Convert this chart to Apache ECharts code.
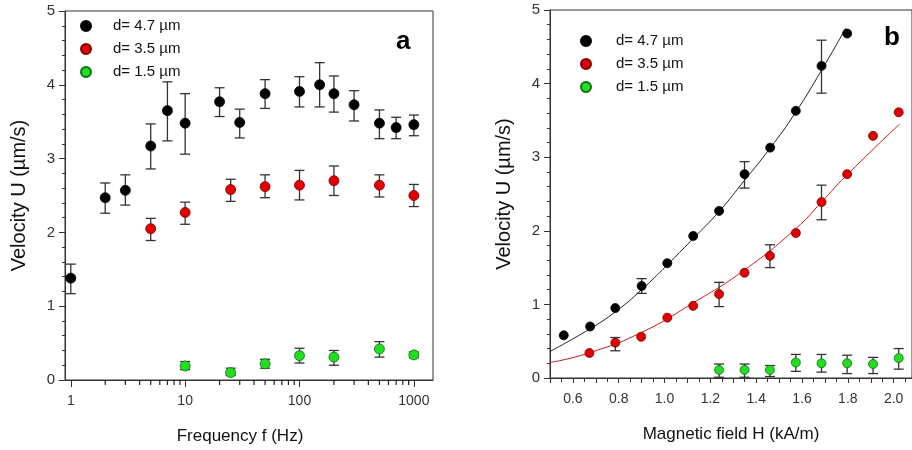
<!DOCTYPE html>
<html>
<head>
<meta charset="utf-8">
<script src="https://cdn.jsdelivr.net/npm/echarts@6/dist/echarts.min.js"></script>
<style>
  html, body { margin: 0; padding: 0; background: #fff; }
  #chart { width: 912px; height: 450px; }
</style>
</head>
<body>
<div id="chart"></div>
<script>
// panel a: velocity vs frequency (log x)
const freqBig = [1, 2, 3, 5, 7, 10, 20, 30, 50, 100, 150, 200, 300, 500, 700, 1000];
const uBig = [1.38, 2.47, 2.57, 3.17, 3.65, 3.48, 3.77, 3.49, 3.88, 3.91, 4.0, 3.88, 3.73, 3.48, 3.42, 3.46];
const uBigLo = [1.17, 2.26, 2.37, 2.86, 3.24, 3.06, 3.57, 3.28, 3.68, 3.7, 3.7, 3.63, 3.51, 3.27, 3.27, 3.31];
const uBigHi = [1.57, 2.67, 2.78, 3.47, 4.04, 3.88, 3.96, 3.67, 4.07, 4.11, 4.3, 4.12, 3.92, 3.66, 3.56, 3.59];

const freqMid = [5, 10, 25, 50, 100, 200, 500, 1000];
const uMid = [2.05, 2.27, 2.58, 2.62, 2.64, 2.7, 2.64, 2.5];
const uMidLo = [1.89, 2.11, 2.42, 2.47, 2.44, 2.5, 2.48, 2.35];
const uMidHi = [2.19, 2.41, 2.72, 2.78, 2.84, 2.9, 2.78, 2.65];

const freqSmall = [10, 25, 50, 100, 200, 500, 1000];
const uSmall = [0.19, 0.1, 0.22, 0.33, 0.31, 0.42, 0.34];
const uSmallLo = [0.14, 0.06, 0.16, 0.23, 0.2, 0.31, 0.3];
const uSmallHi = [0.25, 0.16, 0.28, 0.43, 0.4, 0.52, 0.38];

const freqMinorTicks = [2, 3, 4, 5, 6, 7, 8, 9, 20, 30, 40, 50, 60, 70, 80, 90, 200, 300, 400, 500, 600, 700, 800, 900];

// panel b: velocity vs magnetic field
const hBig = [0.56, 0.675, 0.785, 0.9, 1.012, 1.125, 1.238, 1.349, 1.461, 1.573, 1.685, 1.797];
const vBig = [0.58, 0.7, 0.95, 1.25, 1.56, 1.93, 2.27, 2.77, 3.13, 3.63, 4.24, 4.68];
const errBigH = [0.9, 1.349, 1.685];
const errBigLo = [1.15, 2.58, 3.87];
const errBigHi = [1.35, 2.94, 4.59];

const hMid = [0.672, 0.785, 0.898, 1.012, 1.125, 1.238, 1.349, 1.46, 1.573, 1.685, 1.797, 1.91, 2.022];
const vMid = [0.34, 0.48, 0.56, 0.82, 0.98, 1.14, 1.43, 1.66, 1.97, 2.39, 2.77, 3.29, 3.61];
const errMidH = [0.785, 1.238, 1.46, 1.685];
const errMidLo = [0.37, 0.97, 1.5, 2.15];
const errMidHi = [0.55, 1.3, 1.81, 2.62];

const hSmall = [1.238, 1.349, 1.46, 1.573, 1.685, 1.797, 1.91, 2.022];
const vSmall = [0.11, 0.11, 0.11, 0.21, 0.2, 0.2, 0.19, 0.27];
const vSmallLo = [0.01, 0.01, 0.02, 0.09, 0.08, 0.06, 0.06, 0.12];
const vSmallHi = [0.19, 0.19, 0.17, 0.32, 0.32, 0.31, 0.28, 0.4];

// fitted curves
const fitBigH = [0.5, 0.67, 0.79, 0.9, 1.01, 1.12, 1.24, 1.35, 1.46, 1.57, 1.685, 1.79];
const fitBigV = [0.36, 0.66, 0.91, 1.2, 1.53, 1.88, 2.27, 2.69, 3.12, 3.6, 4.18, 4.75];
const fitMidH = [0.5, 0.67, 0.9, 1.125, 1.35, 1.573, 1.685, 1.79, 2.026];
const fitMidV = [0.21, 0.34, 0.62, 1.02, 1.47, 2.03, 2.39, 2.74, 3.45];

const names = ["d= 4.7 \u00b5m", "d= 3.5 \u00b5m", "d= 1.5 \u00b5m"];
const colors = ["#000000", "#e00000", "#22dd22"];
const borders = ["#000000", "#7a0000", "#0d6e0d"];

const font = "Liberation Sans, Arial, sans-serif";
const freqMin = 0.89;
const freqMax = 1470;

function zip(a, b) {
  return a.map((v, i) => [v, b[i]]);
}

function errData(x, lo, hi) {
  return x.map((v, i) => [v, lo[i], hi[i]]);
}

function errSeries(idx, data) {
  return {
    type: "custom",
    xAxisIndex: idx,
    yAxisIndex: idx,
    silent: true,
    z: 2,
    data: data,
    renderItem: (params, api) => {
      let top = api.coord([api.value(0), api.value(2)]);
      let bot = api.coord([api.value(0), api.value(1)]);
      let w = 5;
      let st = { stroke: "#333", lineWidth: 1.3 };
      return {
        type: "group",
        children: [
          { type: "line", shape: { x1: top[0], y1: top[1], x2: bot[0], y2: bot[1] }, style: st },
          { type: "line", shape: { x1: top[0] - w, y1: top[1], x2: top[0] + w, y2: top[1] }, style: st },
          { type: "line", shape: { x1: bot[0] - w, y1: bot[1], x2: bot[0] + w, y2: bot[1] }, style: st },
        ],
      };
    },
  };
}

function pointSeries(idx, k, data, size) {
  return {
    name: names[k],
    type: "scatter",
    xAxisIndex: idx,
    yAxisIndex: idx,
    symbolSize: size,
    z: 3,
    itemStyle: { color: colors[k], borderColor: borders[k], borderWidth: 0.8, opacity: 1 },
    data: data,
  };
}

function fitSeries(k, data) {
  return {
    type: "line",
    xAxisIndex: 1,
    yAxisIndex: 1,
    smooth: true,
    showSymbol: false,
    silent: true,
    z: 1,
    lineStyle: { color: k === 0 ? "#222" : "#d01818", width: 1 },
    data: data,
  };
}

const yAxisBase = {
  type: "value",
  min: 0,
  max: 5,
  interval: 1,
  name: "Velocity U (\u00b5m/s)",
  nameLocation: "middle",
  nameRotate: 90,
  nameTextStyle: { fontSize: 20, fontFamily: font, color: "#111" },
  axisLine: { show: true, lineStyle: { color: "#333" } },
  axisTick: { show: true, length: 6, lineStyle: { color: "#333" } },
  minorTick: { show: true, splitNumber: 5, length: 3, lineStyle: { color: "#333" } },
  splitLine: { show: false },
  axisLabel: { fontSize: 15, fontFamily: font, color: "#333", margin: 10 },
};

const legendBase = {
  orient: "vertical",
  icon: "circle",
  itemWidth: 44,
  itemHeight: 10,
  itemGap: 7,
  selectedMode: false,
  textStyle: { fontSize: 15, fontFamily: font, color: "#111", lineHeight: 16 },
  data: names,
};

const chart = echarts.init(document.getElementById("chart"));
chart.setOption({
  animation: false,
  backgroundColor: "#fff",
  grid: [
    { left: 65, top: 11, width: 368, height: 369, show: true, borderColor: "#333", borderWidth: 1 },
    { left: 550, top: 10, width: 364, height: 368, show: true, borderColor: "#333", borderWidth: 1 },
    // thin strip under panel a, only used for the log minor ticks
    { left: 65, top: 380, width: 368, height: 5 },
  ],
  title: [
    { text: "a", left: 391, top: 24, textStyle: { fontSize: 26, fontWeight: "bold", fontFamily: font, color: "#000" } },
    { text: "b", left: 879, top: 20, textStyle: { fontSize: 26, fontWeight: "bold", fontFamily: font, color: "#000" } },
  ],
  legend: [
    Object.assign({}, legendBase, { left: 75, top: 13 }),
    Object.assign({}, legendBase, { left: 575, top: 28, textStyle: Object.assign({}, legendBase.textStyle, { padding: [0, 0, 0, 3] }) }),
  ],
  xAxis: [
    {
      type: "log",
      gridIndex: 0,
      min: freqMin,
      max: freqMax,
      name: "Frequency f (Hz)",
      nameLocation: "middle",
      nameGap: 48,
      nameTextStyle: { fontSize: 17, fontFamily: font, color: "#111", padding: [0, 18, 0, 0] },
      axisLine: { show: true, lineStyle: { color: "#333" } },
      axisTick: { show: true, length: 7, lineStyle: { color: "#333" } },
      splitLine: { show: false },
      axisLabel: {
        fontSize: 14,
        fontFamily: font,
        color: "#333",
        margin: 14,
        showMinLabel: false,
        showMaxLabel: false,
        formatter: (v) => String(Math.round(v)),
      },
    },
    {
      type: "value",
      gridIndex: 1,
      min: 0.5,
      max: 2.08,
      interval: 0.1,
      name: "Magnetic field H (kA/m)",
      nameLocation: "middle",
      nameGap: 48,
      nameTextStyle: { fontSize: 17, fontFamily: font, color: "#111" },
      axisLine: { show: true, lineStyle: { color: "#333" } },
      axisTick: { show: true, length: 5, lineStyle: { color: "#333" } },
      minorTick: { show: true, splitNumber: 2, length: 4, lineStyle: { color: "#333" } },
      splitLine: { show: false },
      axisLabel: {
        fontSize: 14,
        fontFamily: font,
        color: "#333",
        margin: 14,
        showMinLabel: false,
        showMaxLabel: false,
        formatter: (v) => (Math.round(v * 10) % 2 === 0 ? v.toFixed(1) : ""),
      },
    },
    { type: "log", gridIndex: 2, min: freqMin, max: freqMax, show: false },
  ],
  yAxis: [
    Object.assign({}, yAxisBase, { gridIndex: 0, nameGap: 36 }),
    Object.assign({}, yAxisBase, { gridIndex: 1, nameGap: 36 }),
    { type: "value", gridIndex: 2, min: 0, max: 1, show: false },
  ],
  series: [
    errSeries(0, errData(freqBig, uBigLo, uBigHi)),
    errSeries(0, errData(freqMid, uMidLo, uMidHi)),
    errSeries(0, errData(freqSmall, uSmallLo, uSmallHi)),
    pointSeries(0, 0, zip(freqBig, uBig), 10),
    pointSeries(0, 1, zip(freqMid, uMid), 10),
    pointSeries(0, 2, zip(freqSmall, uSmall), 10),

    fitSeries(0, zip(fitBigH, fitBigV)),
    fitSeries(1, zip(fitMidH, fitMidV)),
    errSeries(1, errData(errBigH, errBigLo, errBigHi)),
    errSeries(1, errData(errMidH, errMidLo, errMidHi)),
    errSeries(1, errData(hSmall, vSmallLo, vSmallHi)),
    pointSeries(1, 0, zip(hBig, vBig), 9),
    pointSeries(1, 1, zip(hMid, vMid), 9),
    pointSeries(1, 2, zip(hSmall, vSmall), 9),

    // minor ticks of the log axis (2..9 of each decade)
    {
      type: "custom",
      xAxisIndex: 2,
      yAxisIndex: 2,
      silent: true,
      z: 6,
      data: freqMinorTicks.map((f) => [f, 0, 1]),
      renderItem: (params, api) => {
        let a = api.coord([api.value(0), api.value(2)]);
        let b = api.coord([api.value(0), api.value(1)]);
        return {
          type: "line",
          shape: { x1: a[0], y1: a[1], x2: b[0], y2: b[1] },
          style: { stroke: "#222", lineWidth: 1.2 },
        };
      },
    },
  ],
});
</script>
</body>
</html>
